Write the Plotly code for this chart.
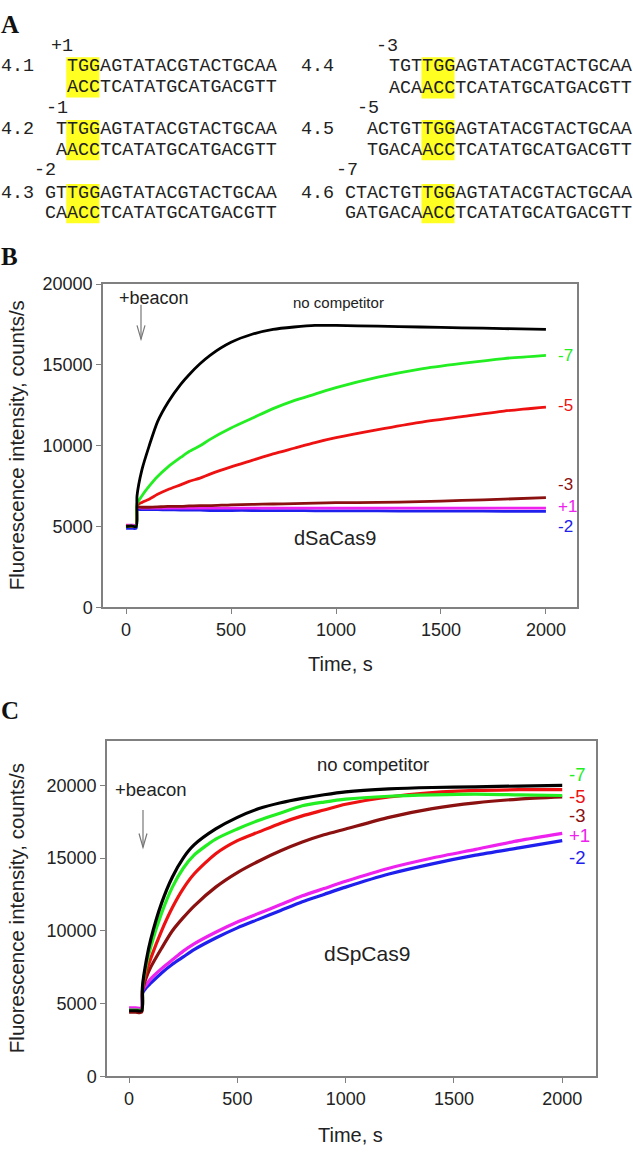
import plotly.graph_objects as go

W, H = 633, 1155
SANS = "Liberation Sans, Arial, sans-serif"
MONO = "Liberation Mono, Courier New, monospace"
SERIF = "Liberation Serif, Times New Roman, serif"

# ---------------- Panel A data ----------------
seq_names = ["4.1", "4.2", "4.3", "4.4", "4.5", "4.6"]
seq_top = ["TGGAGTATACGTACTGCAA", "TTGGAGTATACGTACTGCAA", "GTTGGAGTATACGTACTGCAA",
           "TGTTGGAGTATACGTACTGCAA", "ACTGTTGGAGTATACGTACTGCAA", "CTACTGTTGGAGTATACGTACTGCAA"]
seq_bot = ["ACCTCATATGCATGACGTT", "AACCTCATATGCATGACGTT", "CAACCTCATATGCATGACGTT",
           "ACAACCTCATATGCATGACGTT", "TGACAACCTCATATGCATGACGTT", "GATGACAACCTCATATGCATGACGTT"]
seq_pos = ["+1", "-1", "-2", "-3", "-5", "-7"]

# ---------------- Panel B data (dSaCas9) ----------------
t_B = [0, 25, 48, 52, 75, 110, 150, 200, 262, 300, 352, 400, 500, 600, 700, 800, 900,
       1000, 1200, 1400, 1600, 1800, 2000]
B_none = [5000, 5050, 5000, 6900, 8500, 10000, 11500, 12700, 13830, 14400, 15075, 15600,
          16400, 16900, 17200, 17350, 17450, 17450, 17400, 17350, 17300, 17250, 17200]
B_m7 = [5000, 5050, 5000, 6400, 6900, 7500, 8100, 8700, 9300, 9650, 10000, 10400, 11100,
        11700, 12300, 12800, 13200, 13600, 14250, 14750, 15100, 15400, 15600]
B_m5 = [5050, 5000, 5050, 6300, 6500, 6700, 7000, 7300, 7600, 7800, 8000, 8250, 8700,
        9100, 9500, 9850, 10200, 10500, 11000, 11450, 11800, 12150, 12400]
B_m3 = [5050, 5000, 5050, 6200, 6200, 6200, 6220, 6250, 6260, 6280, 6300, 6300, 6350,
        6380, 6400, 6420, 6450, 6480, 6500, 6550, 6620, 6700, 6800]
B_p1 = [5100, 5100, 5100, 6150, 6150, 6150, 6150, 6150, 6150, 6150, 6150, 6150, 6150,
        6150, 6150, 6150, 6150, 6150, 6150, 6150, 6150, 6150, 6150]
B_m2 = [4900, 4900, 4900, 6050, 6050, 6050, 6050, 6040, 6030, 6020, 6020, 6000, 6000,
        6000, 5990, 5990, 5980, 5980, 5970, 5960, 5960, 5950, 5950]

# ---------------- Panel C data (dSpCas9) ----------------
t_C = [0, 30, 58, 62, 80, 100, 150, 200, 250, 300, 400, 500, 600, 700, 800, 900, 1000,
       1200, 1400, 1600, 1800, 2000]
C_none = [4500, 4500, 4500, 6200, 8000, 9400, 11900, 13700, 15000, 15900, 17000, 17800,
          18400, 18800, 19100, 19350, 19550, 19750, 19850, 19900, 19950, 20000]
C_m7 = [4550, 4550, 4550, 6100, 7700, 8900, 11200, 13000, 14300, 15200, 16300, 17000,
        17600, 18100, 18600, 18850, 19050, 19250, 19350, 19400, 19350, 19300]
C_m5 = [4500, 4500, 4500, 6000, 7200, 8100, 10000, 11600, 12900, 13900, 15300, 16200,
        16800, 17400, 17900, 18300, 18700, 19200, 19500, 19650, 19700, 19700]
C_m3 = [4400, 4400, 4400, 5900, 6800, 7500, 8800, 10000, 10900, 11700, 13000, 14000,
        14800, 15500, 16100, 16600, 17000, 17800, 18400, 18800, 19050, 19200]
C_p1 = [4700, 4700, 4700, 5900, 6300, 6700, 7400, 8000, 8600, 9100, 9900, 10600, 11200,
        11800, 12400, 12900, 13400, 14300, 15000, 15600, 16200, 16700]
C_m2 = [4600, 4600, 4600, 5700, 6100, 6400, 7100, 7700, 8200, 8700, 9500, 10200, 10800,
        11400, 12000, 12500, 13000, 13900, 14600, 15200, 15700, 16200]

x_ticks = [0, 500, 1000, 1500, 2000]
y_ticks = [0, 5000, 10000, 15000, 20000]

COL = {"none": "#000000", "-7": "#22EE22", "-5": "#EE1111", "-3": "#8B1010",
       "+1": "#EE22EE", "-2": "#2020EE"}


def X(px):
    return px / W


def Y(py):
    return 1 - py / H


fig = go.Figure()

# Panel B traces
for name, ys in [("-2", B_m2), ("+1", B_p1), ("-3", B_m3), ("-5", B_m5), ("-7", B_m7), ("none", B_none)]:
    fig.add_trace(go.Scatter(x=t_B, y=ys, mode="lines",
                             line=dict(color=COL[name], width=2.8, shape="spline", smoothing=0.7),
                             xaxis="x", yaxis="y", showlegend=False, hoverinfo="skip"))
# Panel C traces
for name, ys in [("-2", C_m2), ("+1", C_p1), ("-3", C_m3), ("-5", C_m5), ("-7", C_m7), ("none", C_none)]:
    fig.add_trace(go.Scatter(x=t_C, y=ys, mode="lines",
                             line=dict(color=COL[name], width=3.2, shape="spline", smoothing=0.7),
                             xaxis="x2", yaxis="y2", showlegend=False, hoverinfo="skip"))

axis_style = dict(showgrid=False, zeroline=False, showline=True, mirror=True,
                  linecolor="#808080", linewidth=1.5, ticks="outside", ticklen=5,
                  tickwidth=1.2, tickcolor="#808080", tickformat="d",
                  tickfont=dict(family=SANS, size=18, color="#222222"))

fig.update_layout(
    width=W, height=H, margin=dict(l=0, r=0, t=0, b=0),
    paper_bgcolor="white", plot_bgcolor="white",
    xaxis=dict(domain=[X(103), X(577)], range=[-110, 2148], tickvals=x_ticks, anchor="y", **axis_style),
    yaxis=dict(domain=[Y(608), Y(279)], range=[0, 20000], tickvals=y_ticks, anchor="x", **axis_style),
    xaxis2=dict(domain=[X(107), X(596)], range=[-102, 2156], tickvals=x_ticks, anchor="y2", **axis_style),
    yaxis2=dict(domain=[Y(1085), Y(744)], range=[0, 23040], tickvals=y_ticks, anchor="x2", **axis_style),
)

ann = []
shapes = []

# ---------------- Panel A ----------------
FS = 18.4
CW = 0.6 * FS
blocks = [
    # (block x, seq start col, label x, y label, y top, y bottom)
    (0, 6, 50, 37, 58, 79),
    (0, 5, 45, 100, 122, 143),
    (0, 4, 33, 163, 187, 207),
    (300, 8, 375, 37, 58, 80),
    (300, 6, 356, 100, 122, 143),
    (300, 4, 335, 163, 187, 207),
]
for i, (x0, col, lx, yl, yt, yb) in enumerate(blocks):
    # TGG is the 3 letters before "AGTATACGTACTGCAA" (16 letters)
    tgg_col = col + len(seq_top[i]) - 16 - 3
    shapes.append(dict(type="rect", xref="paper", yref="paper",
                       x0=X(x0 + tgg_col * CW), x1=X(x0 + (tgg_col + 3) * CW),
                       y0=Y(yt - 10), y1=Y(yb + 10), fillcolor="#FFFF22", line=dict(width=0),
                       layer="below"))
    for txt, xx, yy in [(seq_names[i], x0, yt), (seq_top[i], x0 + col * CW, yt),
                        (seq_bot[i], x0 + col * CW, yb), (seq_pos[i], lx, yl)]:
        ann.append(dict(x=X(xx), y=Y(yy), xref="paper", yref="paper", text=txt,
                        showarrow=False, xanchor="left", yanchor="middle", borderpad=0,
                        font=dict(family=MONO, size=FS, color="#222222")))

# Panel letters
for letter, py in [("A", 15), ("B", 251), ("C", 713)]:
    ann.append(dict(x=X(0), y=Y(py), xref="paper", yref="paper", text="<b>%s</b>" % letter,
                    showarrow=False, xanchor="left", yanchor="middle", borderpad=0,
                    font=dict(family=SERIF, size=25, color="#111111")))

# Axis titles
for px, py in [(340, 666), (351, 1145)]:
    ann.append(dict(x=X(px), y=Y(py), xref="paper", yref="paper", text="Time, s",
                    showarrow=False, xanchor="center", yanchor="middle",
                    font=dict(family=SANS, size=20, color="#222222")))
for py in [443, 914]:
    ann.append(dict(x=X(16), y=Y(py), xref="paper", yref="paper",
                    text="Fluorescence intensity, counts/s", textangle=-90,
                    showarrow=False, xanchor="center", yanchor="middle",
                    font=dict(family=SANS, size=20.5, color="#222222")))

# In-plot texts, panel B
ann += [
    dict(x=X(117), y=Y(293), xref="paper", yref="paper", text="+beacon", showarrow=False,
         xanchor="left", yanchor="middle", font=dict(family=SANS, size=18, color="#222222")),
    dict(x=X(338), y=Y(298), xref="paper", yref="paper", text="no competitor", showarrow=False,
         xanchor="center", yanchor="middle", font=dict(family=SANS, size=15, color="#222222")),
    dict(x=X(335), y=Y(537), xref="paper", yref="paper", text="dSaCas9", showarrow=False,
         xanchor="center", yanchor="middle", font=dict(family=SANS, size=20, color="#222222")),
]
for lab, py in [("-7", 352), ("-5", 402), ("-3", 483), ("+1", 505), ("-2", 526)]:
    ann.append(dict(x=X(556), y=Y(py), xref="paper", yref="paper", text=lab, showarrow=False,
                    xanchor="left", yanchor="middle", font=dict(family=SANS, size=17, color=COL[lab])))

# In-plot texts, panel C
ann += [
    dict(x=X(113), y=Y(793), xref="paper", yref="paper", text="+beacon", showarrow=False,
         xanchor="left", yanchor="middle", font=dict(family=SANS, size=18.5, color="#222222")),
    dict(x=X(373), y=Y(768), xref="paper", yref="paper", text="no competitor", showarrow=False,
         xanchor="center", yanchor="middle", font=dict(family=SANS, size=18.5, color="#222222")),
    dict(x=X(367), y=Y(960), xref="paper", yref="paper", text="dSpCas9", showarrow=False,
         xanchor="center", yanchor="middle", font=dict(family=SANS, size=21, color="#222222")),
]
for lab, py in [("-7", 778), ("-5", 800), ("-3", 820), ("+1", 840), ("-2", 862)]:
    ann.append(dict(x=X(567), y=Y(py), xref="paper", yref="paper", text=lab, showarrow=False,
                    xanchor="left", yanchor="middle", font=dict(family=SANS, size=18.5, color=COL[lab])))

# Arrows (+beacon)
for ax_, y0, y1 in [(141, 300, 335), (143, 814, 852)]:
    shapes.append(dict(type="line", xref="paper", yref="paper", x0=X(ax_), x1=X(ax_),
                       y0=Y(y0), y1=Y(y1), line=dict(color="#777777", width=1.2)))
    shapes.append(dict(type="path", xref="paper", yref="paper",
                       path="M %f %f L %f %f L %f %f" % (X(ax_ - 4), Y(y1 - 14), X(ax_), Y(y1),
                                                        X(ax_ + 4), Y(y1 - 14)),
                       line=dict(color="#777777", width=1.2)))

fig.update_layout(annotations=ann, shapes=shapes)
fig.write_html("out.html", config={"displayModeBar": False},
               post_script="document.body.style.margin='0';document.body.style.overflow='hidden';")
